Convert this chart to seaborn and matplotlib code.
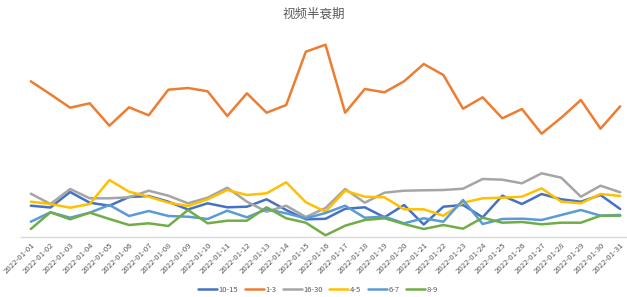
import matplotlib
matplotlib.use("Agg")
import matplotlib.pyplot as plt
import seaborn as sns
import pandas as pd

dates = [f"2022-01-{d:02d}" for d in range(1, 32)]

s_10_15 = [31.3, 29.5, 45.0, 34.3, 31.3, 40.0, 41.0, 35.3, 27.5, 33.7, 29.7, 30.3, 37.7, 27.0, 17.7,
           18.2, 28.2, 29.7, 19.7, 32.0, 12.5, 30.3, 32.0, 19.7, 41.3, 33.0, 43.0, 37.7, 35.3, 42.0, 28.0]
s_1_3 = [155.7, 142.7, 129.3, 133.7, 111.3, 129.7, 121.7, 147.3, 149.0, 145.7, 121.0, 143.7, 124.3, 132.0, 185.3,
         192.3, 124.3, 148.0, 144.7, 155.7, 173.0, 162.0, 128.3, 139.7, 118.7, 128.0, 103.3, 119.3, 137.0, 108.3, 130.7]
s_16_30 = [43.3, 33.0, 48.0, 38.7, 38.7, 39.7, 46.3, 41.3, 33.7, 39.3, 49.3, 35.3, 25.3, 31.3, 20.0,
           29.0, 48.0, 34.3, 44.3, 46.3, 46.7, 47.0, 48.3, 58.0, 57.3, 53.7, 63.7, 59.3, 40.3, 51.3, 44.7]
s_4_5 = [35.3, 33.0, 29.3, 33.0, 57.0, 45.3, 40.3, 34.3, 31.0, 37.7, 47.0, 42.0, 43.7, 54.7, 34.7,
         25.3, 46.3, 40.3, 39.7, 27.7, 27.7, 21.3, 34.3, 38.7, 39.3, 40.3, 48.7, 35.3, 33.7, 43.0, 41.0]
s_6_7 = [15.3, 24.7, 19.3, 24.3, 32.0, 21.0, 26.0, 21.0, 20.3, 18.0, 26.3, 19.7, 27.7, 23.7, 18.7,
         24.0, 31.3, 19.3, 20.3, 13.7, 18.7, 15.3, 37.0, 13.0, 18.0, 18.3, 17.0, 22.0, 27.0, 21.3, 22.0]
s_8_9 = [8.0, 24.7, 17.7, 24.3, 18.0, 12.0, 13.7, 11.0, 27.0, 13.7, 16.3, 16.3, 29.7, 18.7, 14.3,
         1.7, 11.3, 17.0, 18.7, 13.0, 8.0, 12.0, 8.3, 19.3, 14.3, 15.0, 12.7, 14.3, 14.3, 21.3, 21.3]

series_names = ["10-15", "1-3", "16-30", "4-5", "6-7", "8-9"]
series_vals = [s_10_15, s_1_3, s_16_30, s_4_5, s_6_7, s_8_9]
colors = ["#4472C4", "#ED7D31", "#A5A5A5", "#FFC000", "#5B9BD5", "#70AD47"]

rows = []
for name, vals in zip(series_names, series_vals):
    for i, (d, v) in enumerate(zip(dates, vals)):
        rows.append({"idx": i, "date": d, "series": name, "value": v})
df = pd.DataFrame(rows)

sns.set_theme(style="white")
plt.rcParams['font.family'] = ['Noto Sans CJK SC', 'DejaVu Sans']

fig = plt.figure(figsize=(6.27, 2.97), dpi=100)
ax = fig.add_axes([21 / 627, 60 / 297, 609 / 627, 200 / 297])

sns.lineplot(data=df, x="idx", y="value", hue="series", hue_order=series_names,
             palette=colors, linewidth=1.8, ax=ax, legend=True)

ax.set_xlim(-0.5, 30.5)
ax.set_ylim(0, 200)
ax.set_xticks(range(len(dates)))
ax.set_xticklabels(dates, rotation=45, ha="right", rotation_mode="anchor",
                   fontsize=5.6, color="#595959")
ax.tick_params(axis="x", length=0, pad=3)
ax.set_yticks([])
ax.set_xlabel("")
ax.set_ylabel("")
for side in ["left", "right", "top"]:
    ax.spines[side].set_visible(False)
ax.spines["bottom"].set_color("#d9d9d9")
ax.spines["bottom"].set_linewidth(1.0)

fig.text(0.5, 1 - 14 / 297, "视频半衰期", ha="center", va="center",
         fontsize=9, color="#595959")

handles, labels = ax.get_legend_handles_labels()
ax.get_legend().remove()
leg = fig.legend(handles, labels, loc="center", bbox_to_anchor=(0.507, 1 - 290 / 297),
                 ncol=6, frameon=False, fontsize=5.5, handlelength=2.5,
                 handletextpad=0.25, columnspacing=0.8, labelcolor="#595959")

fig.savefig("out.png", dpi=100)
